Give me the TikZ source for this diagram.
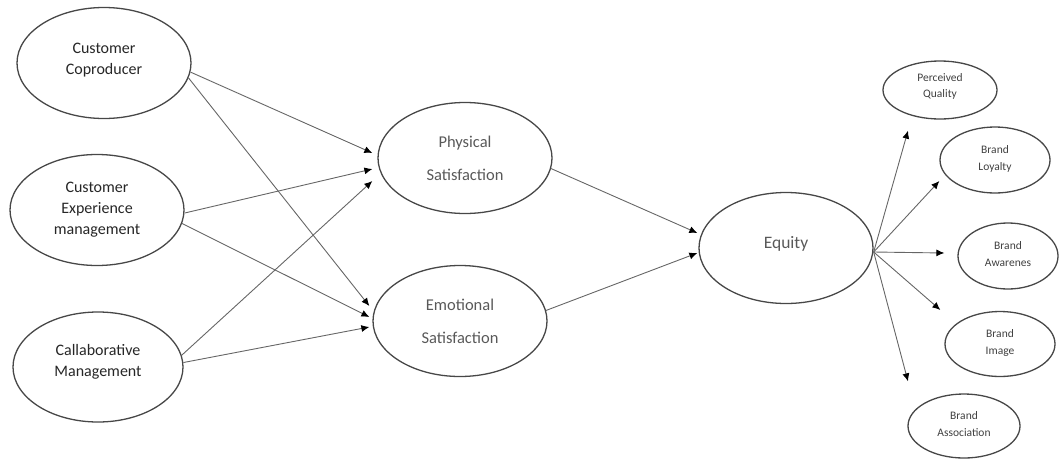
\documentclass[tikz,border=0pt]{standalone}
\usepackage{fontspec}
\setmainfont{Carlito}
\usetikzlibrary{shapes.geometric,arrows.meta}
\begin{document}
\begin{tikzpicture}[x=1pt,y=-1pt,
  oval/.style={ellipse,draw=black!72,line width=1.3pt,inner sep=0pt,align=center},
  bigoval/.style={oval,minimum width=174pt,minimum height=111pt},
  smalloval/.style={oval,minimum width=110pt,minimum height=65pt,text=black!75,font=\fontsize{11.5}{16.5}\selectfont},
  lefttext/.style={text=black!85,font=\fontsize{16}{21}\selectfont},
  midtext/.style={text=black!65,font=\fontsize{16.5}{33}\selectfont},
  conn/.style={draw=black!60,line width=0.9pt,-{Latex[length=8pt,width=7pt,color=black]}}
]
\useasboundingbox (0,0) rectangle (1059,461);

% left column
\node[bigoval,lefttext,text depth=9pt] (cc) at (104,63) {Customer\\Coproducer};
\node[bigoval,lefttext] (cem) at (97,210) {Customer\\Experience\\management};
\node[bigoval,lefttext,minimum width=170pt,minimum height=110pt,text depth=13pt] (cm) at (98,367) {Callaborative\\Management};

% middle column
\node[bigoval,midtext] (ps) at (465,158) {Physical\\Satisfaction};
\node[bigoval,midtext] (es) at (460,321) {Emotional\\Satisfaction};

% equity
\node[bigoval,midtext,font=\fontsize{17.5}{21}\selectfont,text depth=12pt] (eq) at (786,248) {Equity};

% right column
\node[smalloval,minimum width=114pt,minimum height=58pt,text depth=9pt] (pq) at (940,90) {Perceived\\Quality};
\node[smalloval,minimum width=110pt,minimum height=66pt,text depth=4pt] (bl) at (995,160) {Brand\\Loyalty};
\node[smalloval,minimum width=100pt,minimum height=66pt,text depth=4pt] (ba) at (1008,256) {Brand\\Awarenes};
\node[smalloval,minimum width=110pt,minimum height=65pt,text depth=4pt] (bi) at (1000,344) {Brand\\Image};
\node[smalloval,minimum width=112pt,minimum height=64pt,text depth=4pt] (bas) at (964,426) {Brand\\Association};

% left -> middle
\draw[conn] (cc.-6) -- ([xshift=-5pt,yshift=5pt]ps.west);
\draw[conn] (cc.-10) -- ([xshift=-3pt,yshift=15pt]es.west);
\draw[conn] (cem.-2) -- ([xshift=-5pt,yshift=-11pt]ps.west);
\draw[conn] (cem.-9) -- ([xshift=-3pt,yshift=4pt]es.west);
\draw[conn] (cm.8) -- ([xshift=-5pt,yshift=-23pt]ps.west);
\draw[conn] (cm.3) -- ([xshift=-3pt,yshift=-6pt]es.west);

% middle -> equity
\draw[conn] (ps.-7) -- ([xshift=-1pt,yshift=15pt]eq.west);
\draw[conn] (es.7) -- ([xshift=-1pt,yshift=-5pt]eq.west);

% equity -> right
\coordinate (eqo) at ([yshift=-4pt]eq.east);
\draw[conn] (eqo) -- ([xshift=-32pt,yshift=-11pt]pq.south);
\draw[conn] (eqo) -- ([yshift=-21pt]bl.west);
\draw[conn] (eqo) -- ([xshift=-13pt,yshift=3pt]ba.west);
\draw[conn] (eqo) -- ([xshift=-4pt,yshift=34pt]bi.west);
\draw[conn] (eqo) -- ([xshift=-56pt,yshift=12pt]bas.north);
\end{tikzpicture}
\end{document}
